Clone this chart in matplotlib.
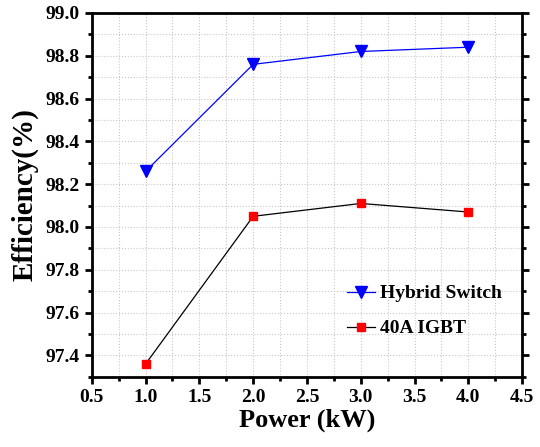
import numpy as np
import matplotlib
matplotlib.use('Agg')
import matplotlib.pyplot as plt
from matplotlib.ticker import MultipleLocator, FormatStrFormatter

power = [1.0, 2.0, 3.0, 4.0]
hybrid_eff = [98.26, 98.76, 98.82, 98.84]
igbt_eff = [97.36, 98.05, 98.11, 98.07]

plt.rcParams['font.family'] = ['Liberation Serif', 'DejaVu Serif']
plt.rcParams['font.weight'] = 'bold'

fig = plt.figure(figsize=(5.4, 4.47), dpi=100)
ax = fig.add_axes([0.170, 0.157, 0.797, 0.814])

ax.plot(power, hybrid_eff, color='blue', lw=0.9, marker='v', markersize=8,
        markerfacecolor='blue', markeredgecolor='blue', label='Hybrid Switch')
ax.plot(power, igbt_eff, color='black', lw=0.9, marker='s', markersize=6,
        markerfacecolor='red', markeredgecolor='red', label='40A IGBT')

ax.set_xlim(0.5, 4.5)
ax.set_ylim(97.3, 99.0)
ax.xaxis.set_major_locator(MultipleLocator(0.5))
ax.xaxis.set_minor_locator(MultipleLocator(0.25))
ax.yaxis.set_major_locator(MultipleLocator(0.2))
ax.yaxis.set_minor_locator(MultipleLocator(0.1))
ax.yaxis.set_major_formatter(FormatStrFormatter('%.1f'))
ax.xaxis.set_major_formatter(FormatStrFormatter('%.1f'))

ax.grid(which='both', color='#c8c8c8', linestyle=':', linewidth=0.8)
ax.set_axisbelow(True)

for s in ax.spines.values():
    s.set_linewidth(2)
ax.tick_params(which='major', direction='out', length=5, width=2, labelsize=14,
               right=True, top=False)
ax.tick_params(which='minor', direction='out', length=3, width=2,
               right=True, top=False)

ax.set_xlabel('Power (kW)', fontsize=19, fontweight='bold', labelpad=2)
ax.set_ylabel('Efficiency(%)', fontsize=21, fontweight='bold', labelpad=5)

ax.legend(loc='lower left', bbox_to_anchor=(0.553, 0.06), frameon=False,
          fontsize=14, handlelength=1.45, handletextpad=0.25, labelspacing=0.9)

fig.savefig('out.png', dpi=100)
